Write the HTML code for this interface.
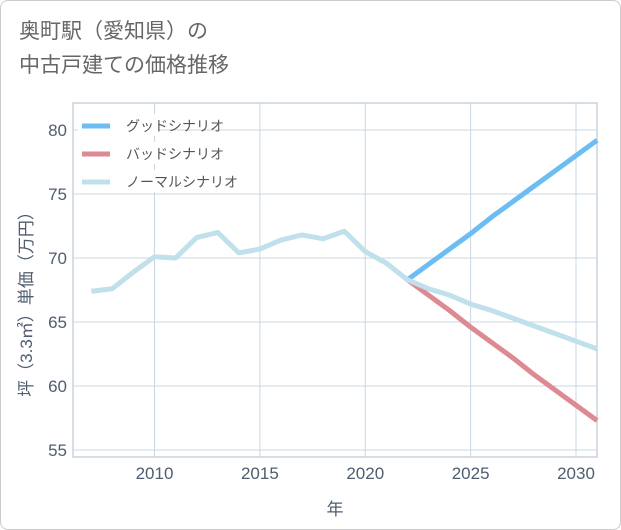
<!DOCTYPE html>
<html><head><meta charset="utf-8">
<style>
html,body{margin:0;padding:0;background:#fff;}
#wrap{position:relative;width:621px;height:530px;box-sizing:border-box;border:1px solid #ccc;border-radius:8px;overflow:hidden;background:#fff;font-family:"Liberation Sans","Noto Sans CJK JP",sans-serif;}
#title{position:absolute;left:18px;top:14px;font-size:21px;line-height:34px;color:#666;}
</style></head><body>
<div id="wrap">
<div id="title">奥町駅（愛知県）の<br>中古戸建ての価格推移</div>
<svg id="chart" width="621" height="530" style="position:absolute;left:-1px;top:-1px"></svg>
</div>
<script>
const years=[2007,2008,2009,2010,2011,2012,2013,2014,2015,2016,2017,2018,2019,2020,2021,2022,2023,2024,2025,2026,2027,2028,2029,2030,2031];
const normalVals=[67.4,67.6,68.9,70.1,70.0,71.6,72.0,70.4,70.7,71.4,71.8,71.5,72.1,70.5,69.6,68.3,67.6,67.1,66.4,65.9,65.3,64.7,64.1,63.5,62.9];
const futureYears=[2022,2023,2024,2025,2026,2027,2028,2029,2030,2031];
const goodVals=[68.3,69.5,70.7,71.9,73.2,74.4,75.6,76.8,78.0,79.2];
const badVals=[68.3,67.1,65.9,64.6,63.4,62.2,60.9,59.7,58.5,57.3];
const xTicks=[2010,2015,2020,2025,2030];
const yTicks=[55,60,65,70,75,80];
const L=73,R=597,T=103,B=457;
const x=v=>154.5+(v-2010)*(576-154.5)/20;
const y=v=>130+(80-v)*(450-130)/25;
const NS="http://www.w3.org/2000/svg";
const svg=document.getElementById('chart');
const TXT='#4f5d70';
function mk(t,a){const e=document.createElementNS(NS,t);for(const k in a)e.setAttribute(k,a[k]);svg.appendChild(e);return e;}
const frame=mk('rect',{x:L,y:T,width:R-L,height:B-T,fill:'none',stroke:'#b0bccb','stroke-width':1});


xTicks.forEach(t=>{
 const g=mk('line',{x1:x(t),x2:x(t),y1:T,y2:B,stroke:'#c9d7e3','stroke-width':1});
 
 
 const tx=mk('text',{x:x(t),y:479,'text-anchor':'middle','font-size':17,fill:TXT,'font-family':'Liberation Sans, sans-serif'});
 tx.textContent=t;
 
 
});
yTicks.forEach(t=>{
 const g=mk('line',{x1:L,x2:R,y1:y(t),y2:y(t),stroke:'#c9d7e3','stroke-width':1});
 
 
 const tx=mk('text',{x:67,y:y(t)+6,'text-anchor':'end','font-size':17,fill:TXT,'font-family':'Liberation Sans, sans-serif'});
 tx.textContent=t;
 
 
});
const xt=mk('text',{x:335,y:515,'text-anchor':'middle','font-size':17,fill:TXT});
xt.textContent='年';


const yt=mk('text',{x:0,y:0,'text-anchor':'middle','font-size':17,fill:TXT,transform:'translate(32,300) rotate(-90)'});
yt.textContent='坪（3.3㎡）単価（万円）';


function line(xs,vs,color,name){
 const p=mk('polyline',{points:xs.map((t,i)=>x(t)+','+y(vs[i])).join(' '),fill:'none',stroke:color,'stroke-width':5,'stroke-linejoin':'round'});
 
 
}
line(futureYears,goodVals,'#6cbdf3','good-scenario-line');
line(futureYears,badVals,'#de8a92','bad-scenario-line');
line(years,normalVals,'#c0e0ec','normal-scenario-line');
const legend=[['グッドシナリオ','#6cbdf3'],['バッドシナリオ','#de8a92'],['ノーマルシナリオ','#c0e0ec']];
legend.forEach((d,i)=>{
 const yy=126+i*28;
 const bg=mk('rect',{x:78,y:yy-12,width:i==2?92:80,height:22,fill:'#fff'});
 
 
 const s=mk('line',{x1:82,x2:110,y1:yy,y2:yy,stroke:d[1],'stroke-width':5});
 
 
 const tx=mk('text',{x:126,y:yy+5,'font-size':14,fill:'#555'});
 tx.textContent=d[0];
 
 
});
</script>
</body></html>
